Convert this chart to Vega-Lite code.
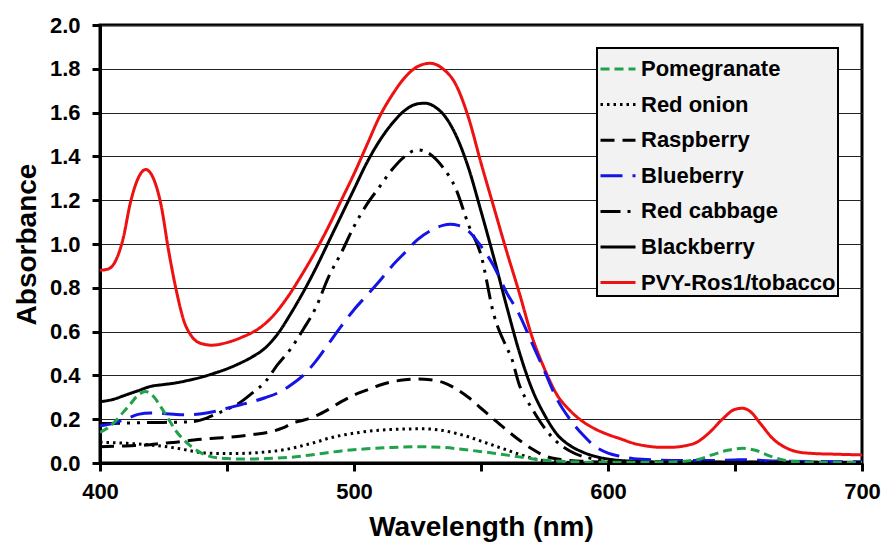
{
  "$schema": "https://vega.github.io/schema/vega-lite/v6.json",
  "autosize": {"type": "none"},
  "width": 762,
  "height": 438,
  "padding": {"left": 100, "top": 25, "right": 20, "bottom": 84},
  "background": "white",
  "config": {
    "view": {"stroke": "black", "strokeWidth": 3},
    "font": "Liberation Sans",
    "axis": {
      "labelFont": "Liberation Sans",
      "labelFontWeight": "bold",
      "labelFontSize": 22,
      "labelColor": "black",
      "titleFont": "Liberation Sans",
      "titleFontWeight": "bold",
      "titleFontSize": 28,
      "titleColor": "black",
      "domainColor": "black",
      "domainWidth": 3,
      "tickColor": "black",
      "tickWidth": 3,
      "tickSize": 8
    }
  },
  "data": {
    "values": [
      {"s": "PVY-Ros1/tobacco", "w": 400, "a": 0.88}, {"s": "PVY-Ros1/tobacco", "w": 403, "a": 0.885}, {"s": "PVY-Ros1/tobacco", "w": 406, "a": 0.92}, {"s": "PVY-Ros1/tobacco", "w": 409, "a": 1.02}, {"s": "PVY-Ros1/tobacco", "w": 412, "a": 1.19}, {"s": "PVY-Ros1/tobacco", "w": 415, "a": 1.3}, {"s": "PVY-Ros1/tobacco", "w": 418, "a": 1.34}, {"s": "PVY-Ros1/tobacco", "w": 421, "a": 1.3}, {"s": "PVY-Ros1/tobacco", "w": 424, "a": 1.18}, {"s": "PVY-Ros1/tobacco", "w": 427, "a": 0.97}, {"s": "PVY-Ros1/tobacco", "w": 430, "a": 0.79}, {"s": "PVY-Ros1/tobacco", "w": 433, "a": 0.65}, {"s": "PVY-Ros1/tobacco", "w": 436, "a": 0.58}, {"s": "PVY-Ros1/tobacco", "w": 440, "a": 0.545}, {"s": "PVY-Ros1/tobacco", "w": 444, "a": 0.538}, {"s": "PVY-Ros1/tobacco", "w": 450, "a": 0.55}, {"s": "PVY-Ros1/tobacco", "w": 456, "a": 0.575}, {"s": "PVY-Ros1/tobacco", "w": 462, "a": 0.61}, {"s": "PVY-Ros1/tobacco", "w": 468, "a": 0.67}, {"s": "PVY-Ros1/tobacco", "w": 474, "a": 0.76}, {"s": "PVY-Ros1/tobacco", "w": 480, "a": 0.87}, {"s": "PVY-Ros1/tobacco", "w": 485, "a": 0.97}, {"s": "PVY-Ros1/tobacco", "w": 490, "a": 1.08}, {"s": "PVY-Ros1/tobacco", "w": 495, "a": 1.2}, {"s": "PVY-Ros1/tobacco", "w": 500, "a": 1.32}, {"s": "PVY-Ros1/tobacco", "w": 505, "a": 1.45}, {"s": "PVY-Ros1/tobacco", "w": 510, "a": 1.58}, {"s": "PVY-Ros1/tobacco", "w": 515, "a": 1.68}, {"s": "PVY-Ros1/tobacco", "w": 520, "a": 1.76}, {"s": "PVY-Ros1/tobacco", "w": 525, "a": 1.81}, {"s": "PVY-Ros1/tobacco", "w": 530, "a": 1.825}, {"s": "PVY-Ros1/tobacco", "w": 535, "a": 1.8}, {"s": "PVY-Ros1/tobacco", "w": 540, "a": 1.73}, {"s": "PVY-Ros1/tobacco", "w": 545, "a": 1.58}, {"s": "PVY-Ros1/tobacco", "w": 550, "a": 1.37}, {"s": "PVY-Ros1/tobacco", "w": 555, "a": 1.17}, {"s": "PVY-Ros1/tobacco", "w": 560, "a": 0.97}, {"s": "PVY-Ros1/tobacco", "w": 565, "a": 0.78}, {"s": "PVY-Ros1/tobacco", "w": 570, "a": 0.58}, {"s": "PVY-Ros1/tobacco", "w": 575, "a": 0.43}, {"s": "PVY-Ros1/tobacco", "w": 580, "a": 0.31}, {"s": "PVY-Ros1/tobacco", "w": 585, "a": 0.24}, {"s": "PVY-Ros1/tobacco", "w": 590, "a": 0.19}, {"s": "PVY-Ros1/tobacco", "w": 595, "a": 0.155}, {"s": "PVY-Ros1/tobacco", "w": 600, "a": 0.13}, {"s": "PVY-Ros1/tobacco", "w": 605, "a": 0.11}, {"s": "PVY-Ros1/tobacco", "w": 610, "a": 0.09}, {"s": "PVY-Ros1/tobacco", "w": 615, "a": 0.078}, {"s": "PVY-Ros1/tobacco", "w": 620, "a": 0.072}, {"s": "PVY-Ros1/tobacco", "w": 625, "a": 0.072}, {"s": "PVY-Ros1/tobacco", "w": 630, "a": 0.078}, {"s": "PVY-Ros1/tobacco", "w": 635, "a": 0.095}, {"s": "PVY-Ros1/tobacco", "w": 640, "a": 0.14}, {"s": "PVY-Ros1/tobacco", "w": 645, "a": 0.2}, {"s": "PVY-Ros1/tobacco", "w": 650, "a": 0.245}, {"s": "PVY-Ros1/tobacco", "w": 653, "a": 0.25}, {"s": "PVY-Ros1/tobacco", "w": 656, "a": 0.235}, {"s": "PVY-Ros1/tobacco", "w": 660, "a": 0.18}, {"s": "PVY-Ros1/tobacco", "w": 665, "a": 0.11}, {"s": "PVY-Ros1/tobacco", "w": 670, "a": 0.07}, {"s": "PVY-Ros1/tobacco", "w": 675, "a": 0.05}, {"s": "PVY-Ros1/tobacco", "w": 680, "a": 0.044}, {"s": "PVY-Ros1/tobacco", "w": 690, "a": 0.04}, {"s": "PVY-Ros1/tobacco", "w": 700, "a": 0.037},

      {"s": "Blackberry", "w": 400, "a": 0.28}, {"s": "Blackberry", "w": 405, "a": 0.29}, {"s": "Blackberry", "w": 410, "a": 0.31}, {"s": "Blackberry", "w": 415, "a": 0.33}, {"s": "Blackberry", "w": 420, "a": 0.35}, {"s": "Blackberry", "w": 425, "a": 0.358}, {"s": "Blackberry", "w": 430, "a": 0.366}, {"s": "Blackberry", "w": 435, "a": 0.378}, {"s": "Blackberry", "w": 440, "a": 0.392}, {"s": "Blackberry", "w": 445, "a": 0.41}, {"s": "Blackberry", "w": 450, "a": 0.43}, {"s": "Blackberry", "w": 455, "a": 0.455}, {"s": "Blackberry", "w": 460, "a": 0.485}, {"s": "Blackberry", "w": 465, "a": 0.525}, {"s": "Blackberry", "w": 470, "a": 0.59}, {"s": "Blackberry", "w": 475, "a": 0.68}, {"s": "Blackberry", "w": 480, "a": 0.78}, {"s": "Blackberry", "w": 485, "a": 0.89}, {"s": "Blackberry", "w": 490, "a": 1.01}, {"s": "Blackberry", "w": 495, "a": 1.13}, {"s": "Blackberry", "w": 500, "a": 1.25}, {"s": "Blackberry", "w": 505, "a": 1.37}, {"s": "Blackberry", "w": 510, "a": 1.47}, {"s": "Blackberry", "w": 515, "a": 1.55}, {"s": "Blackberry", "w": 520, "a": 1.61}, {"s": "Blackberry", "w": 525, "a": 1.64}, {"s": "Blackberry", "w": 528, "a": 1.643}, {"s": "Blackberry", "w": 532, "a": 1.625}, {"s": "Blackberry", "w": 536, "a": 1.58}, {"s": "Blackberry", "w": 540, "a": 1.5}, {"s": "Blackberry", "w": 545, "a": 1.35}, {"s": "Blackberry", "w": 550, "a": 1.15}, {"s": "Blackberry", "w": 555, "a": 0.94}, {"s": "Blackberry", "w": 560, "a": 0.72}, {"s": "Blackberry", "w": 565, "a": 0.51}, {"s": "Blackberry", "w": 570, "a": 0.34}, {"s": "Blackberry", "w": 575, "a": 0.22}, {"s": "Blackberry", "w": 580, "a": 0.13}, {"s": "Blackberry", "w": 585, "a": 0.08}, {"s": "Blackberry", "w": 590, "a": 0.05}, {"s": "Blackberry", "w": 595, "a": 0.03}, {"s": "Blackberry", "w": 600, "a": 0.018}, {"s": "Blackberry", "w": 610, "a": 0.008}, {"s": "Blackberry", "w": 620, "a": 0.005}, {"s": "Blackberry", "w": 650, "a": 0.005}, {"s": "Blackberry", "w": 700, "a": 0.003},

      {"s": "Red cabbage", "w": 400, "a": 0.18}, {"s": "Red cabbage", "w": 410, "a": 0.182}, {"s": "Red cabbage", "w": 420, "a": 0.185}, {"s": "Red cabbage", "w": 430, "a": 0.186}, {"s": "Red cabbage", "w": 437, "a": 0.19}, {"s": "Red cabbage", "w": 442, "a": 0.205}, {"s": "Red cabbage", "w": 446, "a": 0.225}, {"s": "Red cabbage", "w": 450, "a": 0.245}, {"s": "Red cabbage", "w": 455, "a": 0.275}, {"s": "Red cabbage", "w": 460, "a": 0.32}, {"s": "Red cabbage", "w": 465, "a": 0.37}, {"s": "Red cabbage", "w": 470, "a": 0.45}, {"s": "Red cabbage", "w": 475, "a": 0.52}, {"s": "Red cabbage", "w": 480, "a": 0.61}, {"s": "Red cabbage", "w": 485, "a": 0.71}, {"s": "Red cabbage", "w": 490, "a": 0.85}, {"s": "Red cabbage", "w": 495, "a": 0.96}, {"s": "Red cabbage", "w": 500, "a": 1.08}, {"s": "Red cabbage", "w": 505, "a": 1.18}, {"s": "Red cabbage", "w": 510, "a": 1.26}, {"s": "Red cabbage", "w": 515, "a": 1.34}, {"s": "Red cabbage", "w": 520, "a": 1.4}, {"s": "Red cabbage", "w": 525, "a": 1.43}, {"s": "Red cabbage", "w": 530, "a": 1.41}, {"s": "Red cabbage", "w": 535, "a": 1.35}, {"s": "Red cabbage", "w": 540, "a": 1.255}, {"s": "Red cabbage", "w": 545, "a": 1.09}, {"s": "Red cabbage", "w": 550, "a": 0.95}, {"s": "Red cabbage", "w": 555, "a": 0.68}, {"s": "Red cabbage", "w": 560, "a": 0.53}, {"s": "Red cabbage", "w": 562, "a": 0.48}, {"s": "Red cabbage", "w": 565, "a": 0.36}, {"s": "Red cabbage", "w": 570, "a": 0.25}, {"s": "Red cabbage", "w": 575, "a": 0.16}, {"s": "Red cabbage", "w": 580, "a": 0.095}, {"s": "Red cabbage", "w": 585, "a": 0.055}, {"s": "Red cabbage", "w": 590, "a": 0.03}, {"s": "Red cabbage", "w": 595, "a": 0.018}, {"s": "Red cabbage", "w": 600, "a": 0.01}, {"s": "Red cabbage", "w": 610, "a": 0.005}, {"s": "Red cabbage", "w": 700, "a": 0.002},

      {"s": "Blueberry", "w": 400, "a": 0.17}, {"s": "Blueberry", "w": 405, "a": 0.18}, {"s": "Blueberry", "w": 410, "a": 0.2}, {"s": "Blueberry", "w": 415, "a": 0.222}, {"s": "Blueberry", "w": 420, "a": 0.228}, {"s": "Blueberry", "w": 425, "a": 0.226}, {"s": "Blueberry", "w": 430, "a": 0.222}, {"s": "Blueberry", "w": 435, "a": 0.22}, {"s": "Blueberry", "w": 440, "a": 0.225}, {"s": "Blueberry", "w": 445, "a": 0.235}, {"s": "Blueberry", "w": 450, "a": 0.25}, {"s": "Blueberry", "w": 455, "a": 0.265}, {"s": "Blueberry", "w": 460, "a": 0.28}, {"s": "Blueberry", "w": 465, "a": 0.298}, {"s": "Blueberry", "w": 470, "a": 0.32}, {"s": "Blueberry", "w": 475, "a": 0.355}, {"s": "Blueberry", "w": 480, "a": 0.4}, {"s": "Blueberry", "w": 485, "a": 0.465}, {"s": "Blueberry", "w": 490, "a": 0.545}, {"s": "Blueberry", "w": 495, "a": 0.625}, {"s": "Blueberry", "w": 500, "a": 0.7}, {"s": "Blueberry", "w": 505, "a": 0.765}, {"s": "Blueberry", "w": 510, "a": 0.83}, {"s": "Blueberry", "w": 515, "a": 0.9}, {"s": "Blueberry", "w": 520, "a": 0.96}, {"s": "Blueberry", "w": 525, "a": 1.02}, {"s": "Blueberry", "w": 530, "a": 1.06}, {"s": "Blueberry", "w": 535, "a": 1.085}, {"s": "Blueberry", "w": 538, "a": 1.09}, {"s": "Blueberry", "w": 541, "a": 1.085}, {"s": "Blueberry", "w": 545, "a": 1.06}, {"s": "Blueberry", "w": 550, "a": 0.99}, {"s": "Blueberry", "w": 555, "a": 0.9}, {"s": "Blueberry", "w": 560, "a": 0.78}, {"s": "Blueberry", "w": 565, "a": 0.68}, {"s": "Blueberry", "w": 570, "a": 0.55}, {"s": "Blueberry", "w": 575, "a": 0.42}, {"s": "Blueberry", "w": 580, "a": 0.29}, {"s": "Blueberry", "w": 585, "a": 0.2}, {"s": "Blueberry", "w": 590, "a": 0.13}, {"s": "Blueberry", "w": 595, "a": 0.075}, {"s": "Blueberry", "w": 600, "a": 0.045}, {"s": "Blueberry", "w": 605, "a": 0.03}, {"s": "Blueberry", "w": 610, "a": 0.02}, {"s": "Blueberry", "w": 615, "a": 0.016}, {"s": "Blueberry", "w": 620, "a": 0.013}, {"s": "Blueberry", "w": 630, "a": 0.011}, {"s": "Blueberry", "w": 640, "a": 0.011}, {"s": "Blueberry", "w": 650, "a": 0.014}, {"s": "Blueberry", "w": 655, "a": 0.015}, {"s": "Blueberry", "w": 660, "a": 0.012}, {"s": "Blueberry", "w": 670, "a": 0.008}, {"s": "Blueberry", "w": 700, "a": 0.006},

      {"s": "Raspberry", "w": 400, "a": 0.074}, {"s": "Raspberry", "w": 410, "a": 0.078}, {"s": "Raspberry", "w": 418, "a": 0.082}, {"s": "Raspberry", "w": 425, "a": 0.09}, {"s": "Raspberry", "w": 430, "a": 0.095}, {"s": "Raspberry", "w": 437, "a": 0.105}, {"s": "Raspberry", "w": 445, "a": 0.113}, {"s": "Raspberry", "w": 453, "a": 0.12}, {"s": "Raspberry", "w": 460, "a": 0.13}, {"s": "Raspberry", "w": 467, "a": 0.142}, {"s": "Raspberry", "w": 472, "a": 0.16}, {"s": "Raspberry", "w": 476, "a": 0.183}, {"s": "Raspberry", "w": 480, "a": 0.195}, {"s": "Raspberry", "w": 485, "a": 0.215}, {"s": "Raspberry", "w": 490, "a": 0.245}, {"s": "Raspberry", "w": 495, "a": 0.28}, {"s": "Raspberry", "w": 500, "a": 0.31}, {"s": "Raspberry", "w": 505, "a": 0.333}, {"s": "Raspberry", "w": 510, "a": 0.355}, {"s": "Raspberry", "w": 515, "a": 0.371}, {"s": "Raspberry", "w": 520, "a": 0.38}, {"s": "Raspberry", "w": 525, "a": 0.384}, {"s": "Raspberry", "w": 530, "a": 0.38}, {"s": "Raspberry", "w": 535, "a": 0.368}, {"s": "Raspberry", "w": 540, "a": 0.34}, {"s": "Raspberry", "w": 545, "a": 0.3}, {"s": "Raspberry", "w": 550, "a": 0.25}, {"s": "Raspberry", "w": 555, "a": 0.2}, {"s": "Raspberry", "w": 560, "a": 0.151}, {"s": "Raspberry", "w": 565, "a": 0.105}, {"s": "Raspberry", "w": 570, "a": 0.065}, {"s": "Raspberry", "w": 575, "a": 0.033}, {"s": "Raspberry", "w": 580, "a": 0.018}, {"s": "Raspberry", "w": 585, "a": 0.012}, {"s": "Raspberry", "w": 590, "a": 0.008}, {"s": "Raspberry", "w": 600, "a": 0.004}, {"s": "Raspberry", "w": 700, "a": 0.002},

      {"s": "Red onion", "w": 400, "a": 0.095}, {"s": "Red onion", "w": 410, "a": 0.09}, {"s": "Red onion", "w": 420, "a": 0.082}, {"s": "Red onion", "w": 430, "a": 0.068}, {"s": "Red onion", "w": 436, "a": 0.055}, {"s": "Red onion", "w": 441, "a": 0.046}, {"s": "Red onion", "w": 450, "a": 0.043}, {"s": "Red onion", "w": 457, "a": 0.044}, {"s": "Red onion", "w": 465, "a": 0.05}, {"s": "Red onion", "w": 470, "a": 0.056}, {"s": "Red onion", "w": 475, "a": 0.066}, {"s": "Red onion", "w": 480, "a": 0.08}, {"s": "Red onion", "w": 485, "a": 0.095}, {"s": "Red onion", "w": 490, "a": 0.113}, {"s": "Red onion", "w": 495, "a": 0.126}, {"s": "Red onion", "w": 500, "a": 0.136}, {"s": "Red onion", "w": 505, "a": 0.144}, {"s": "Red onion", "w": 510, "a": 0.15}, {"s": "Red onion", "w": 515, "a": 0.153}, {"s": "Red onion", "w": 520, "a": 0.155}, {"s": "Red onion", "w": 527, "a": 0.156}, {"s": "Red onion", "w": 533, "a": 0.152}, {"s": "Red onion", "w": 540, "a": 0.136}, {"s": "Red onion", "w": 545, "a": 0.12}, {"s": "Red onion", "w": 550, "a": 0.1}, {"s": "Red onion", "w": 555, "a": 0.08}, {"s": "Red onion", "w": 560, "a": 0.06}, {"s": "Red onion", "w": 565, "a": 0.04}, {"s": "Red onion", "w": 570, "a": 0.022}, {"s": "Red onion", "w": 575, "a": 0.01}, {"s": "Red onion", "w": 580, "a": 0.005}, {"s": "Red onion", "w": 590, "a": 0.002}, {"s": "Red onion", "w": 700, "a": 0.001},

      {"s": "Pomegranate", "w": 400, "a": 0.14}, {"s": "Pomegranate", "w": 403, "a": 0.16}, {"s": "Pomegranate", "w": 406, "a": 0.19}, {"s": "Pomegranate", "w": 409, "a": 0.23}, {"s": "Pomegranate", "w": 412, "a": 0.27}, {"s": "Pomegranate", "w": 415, "a": 0.31}, {"s": "Pomegranate", "w": 418, "a": 0.326}, {"s": "Pomegranate", "w": 421, "a": 0.305}, {"s": "Pomegranate", "w": 424, "a": 0.255}, {"s": "Pomegranate", "w": 427, "a": 0.2}, {"s": "Pomegranate", "w": 430, "a": 0.145}, {"s": "Pomegranate", "w": 433, "a": 0.105}, {"s": "Pomegranate", "w": 436, "a": 0.075}, {"s": "Pomegranate", "w": 440, "a": 0.045}, {"s": "Pomegranate", "w": 444, "a": 0.028}, {"s": "Pomegranate", "w": 450, "a": 0.02}, {"s": "Pomegranate", "w": 457, "a": 0.018}, {"s": "Pomegranate", "w": 465, "a": 0.02}, {"s": "Pomegranate", "w": 475, "a": 0.026}, {"s": "Pomegranate", "w": 485, "a": 0.04}, {"s": "Pomegranate", "w": 495, "a": 0.055}, {"s": "Pomegranate", "w": 505, "a": 0.065}, {"s": "Pomegranate", "w": 515, "a": 0.071}, {"s": "Pomegranate", "w": 525, "a": 0.074}, {"s": "Pomegranate", "w": 535, "a": 0.071}, {"s": "Pomegranate", "w": 545, "a": 0.059}, {"s": "Pomegranate", "w": 555, "a": 0.045}, {"s": "Pomegranate", "w": 565, "a": 0.028}, {"s": "Pomegranate", "w": 575, "a": 0.013}, {"s": "Pomegranate", "w": 585, "a": 0.006}, {"s": "Pomegranate", "w": 595, "a": 0.003}, {"s": "Pomegranate", "w": 610, "a": 0.003}, {"s": "Pomegranate", "w": 625, "a": 0.005}, {"s": "Pomegranate", "w": 635, "a": 0.015}, {"s": "Pomegranate", "w": 641, "a": 0.037}, {"s": "Pomegranate", "w": 647, "a": 0.058}, {"s": "Pomegranate", "w": 653, "a": 0.067}, {"s": "Pomegranate", "w": 658, "a": 0.058}, {"s": "Pomegranate", "w": 663, "a": 0.035}, {"s": "Pomegranate", "w": 668, "a": 0.016}, {"s": "Pomegranate", "w": 675, "a": 0.006}, {"s": "Pomegranate", "w": 690, "a": 0.003}, {"s": "Pomegranate", "w": 700, "a": 0.002}
    ]
  },
  "mark": {"type": "line", "strokeWidth": 3, "interpolate": "monotone", "strokeCap": "butt", "clip": true},
  "encoding": {
    "x": {
      "field": "w", "type": "quantitative",
      "scale": {"domain": [400, 700], "nice": false, "zero": false},
      "axis": {
        "title": "Wavelength (nm)",
        "values": [400, 450, 500, 550, 600, 650, 700],
        "labelExpr": "datum.value % 100 === 0 ? datum.label : ''",
        "grid": false,
        "labelPadding": 10,
        "titlePadding": 11,
        "labelFlush": false
      }
    },
    "y": {
      "field": "a", "type": "quantitative",
      "scale": {"domain": [0, 2], "nice": false},
      "axis": {
        "title": "Absorbance",
        "values": [0, 0.2, 0.4, 0.6, 0.8, 1.0, 1.2, 1.4, 1.6, 1.8, 2.0],
        "format": ".1f",
        "grid": true,
        "gridColor": "#222222",
        "gridWidth": 1,
        "gridOpacity": 1,
        "labelPadding": 12,
        "titlePadding": 8,
        "labelFlush": false
      }
    },
    "color": {
      "field": "s", "type": "nominal",
      "scale": {
        "domain": ["Pomegranate", "Red onion", "Raspberry", "Blueberry", "Red cabbage", "Blackberry", "PVY-Ros1/tobacco"],
        "range": ["#1fa24a", "#000000", "#000000", "#1414e6", "#000000", "#000000", "#ee1111"]
      },
      "legend": {
        "title": null,
        "orient": "none",
        "legendX": 497,
        "legendY": 23,
        "symbolType": "stroke",
        "symbolSize": 1225,
        "symbolStrokeWidth": 3,
        "labelFont": "Liberation Sans",
        "labelFontWeight": "bold",
        "labelFontSize": 22,
        "labelColor": "black",
        "labelOffset": 4,
        "rowPadding": 5.6,
        "padding": 2,
        "fillColor": "#f2f2f2",
        "strokeColor": "black",
        "labelLimit": 400,
        "encode": {"legend": {"update": {"strokeWidth": {"value": 2}}}}
      }
    },
    "strokeDash": {
      "field": "s", "type": "nominal",
      "scale": {
        "domain": ["Pomegranate", "Red onion", "Raspberry", "Blueberry", "Red cabbage", "Blackberry", "PVY-Ros1/tobacco"],
        "range": [[9, 5], [2.5, 4], [14, 8], [22, 10], [20, 7, 3, 7, 3, 7], [1, 0], [1, 0]]
      },
      "legend": null
    }
  }
}
